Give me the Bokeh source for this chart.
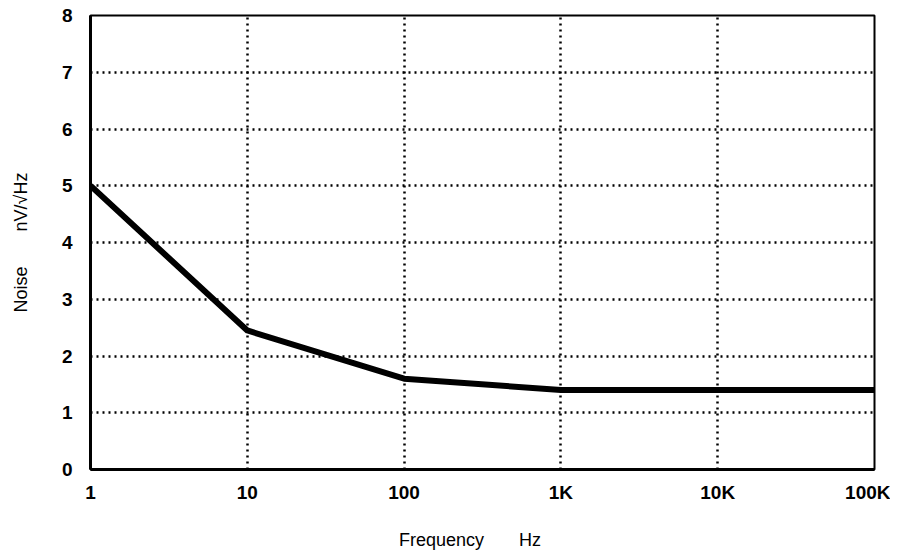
from bokeh.plotting import figure
from bokeh.models import FixedTicker
from bokeh.embed import file_html
from bokeh.resources import INLINE

freq = [1, 10, 100, 1000, 10000, 100000]
noise = [5.0, 2.45, 1.6, 1.4, 1.4, 1.4]

x_ticks = [1, 10, 100, 1000, 10000, 100000]
x_tick_labels = ["1", "10", "100", "1K", "10K", "100K"]
y_ticks = [0, 1, 2, 3, 4, 5, 6, 7, 8]

NB = "\u00a0"

p = figure(width=890, height=552, x_axis_type="log",
           x_range=(1, 100000), y_range=(0, 8),
           output_backend="svg", toolbar_location=None,
           min_border_left=90, min_border_right=16,
           min_border_top=15, min_border_bottom=83)

p.line(freq, noise, line_width=6, line_color="black", line_join="round")

p.xaxis.ticker = FixedTicker(ticks=x_ticks)
p.xaxis.major_label_overrides = {t: l for t, l in zip(x_ticks, x_tick_labels)}
p.yaxis.ticker = FixedTicker(ticks=y_ticks)

for ax in (p.xaxis, p.yaxis):
    ax.major_tick_line_color = None
    ax.minor_tick_line_color = None
    ax.major_tick_in = 0
    ax.major_tick_out = 0
    ax.minor_tick_in = 0
    ax.minor_tick_out = 0
    ax.axis_line_color = "black"
    ax.axis_line_width = 3
    ax.major_label_text_font = "Liberation Sans"
    ax.major_label_text_font_style = "bold"
    ax.major_label_text_font_size = "19px"
    ax.major_label_text_color = "black"
    ax.axis_label_text_font = "Liberation Sans"
    ax.axis_label_text_font_style = "normal"
    ax.axis_label_text_font_size = "18px"
    ax.axis_label_text_color = "black"

p.xaxis.major_label_standoff = 12
p.yaxis.major_label_standoff = 18
p.xaxis.axis_label = "Frequency" + NB * 7 + "Hz" + NB * 5
p.yaxis.axis_label = "Noise" + NB * 7 + "nV/\u221aHz"
p.xaxis.axis_label_standoff = 24
p.yaxis.axis_label_standoff = 28

p.grid.grid_line_color = "black"
p.grid.grid_line_width = 2.5
p.grid.grid_line_dash = "2 4"

p.outline_line_color = "black"
p.outline_line_width = 2
p.background_fill_color = "white"
p.border_fill_color = "white"

open("out.html", "w").write(file_html(p, INLINE))
